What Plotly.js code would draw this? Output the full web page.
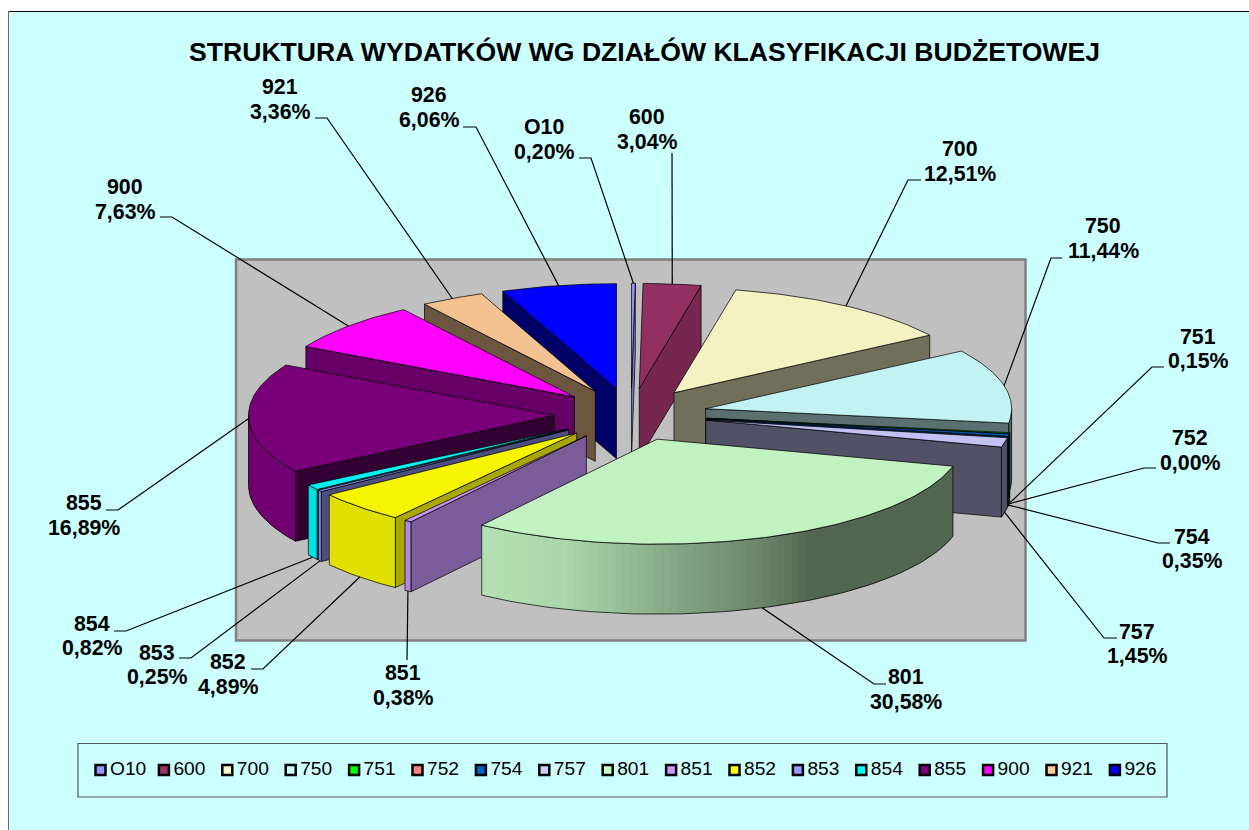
<!DOCTYPE html>
<html>
<head>
<meta charset="utf-8">
<script src="https://cdn.plot.ly/plotly-3.0.1.min.js"></script>
<style>html,body{margin:0;padding:0;background:#fff}#chart{width:1249px;height:830px}</style>
</head>
<body>
<div id="chart"></div>
<script>
// ---------- data ----------
const categories = ["O10","600","700","750","751","752","754","757","801","851","852","853","854","855","900","921","926"];
const shares = [0.20,3.04,12.51,11.44,0.15,0.00,0.35,1.45,30.58,0.38,4.89,0.25,0.82,16.89,7.63,3.36,6.06];
const colors = ["#9999FF","#993366","#FFFFCC","#CCFFFF","#00FF00","#FF8080","#0066CC","#CCCCFF","#CCFFCC","#CC99FF","#FFFF00","#9999FF","#00FFFF","#800080","#FF00FF","#FFCC99","#0000FF"];

// ---------- styling ----------
const topShade  = [.95,.95,.95,.95,.95,.95,.95,.95,.95,.95,.96,.95,.95,.95,1,.95,1];
const sideShade = [.75,.77,.44,.44,.44,.44,.44,.40,.44,.60,.66,.50,.50,.40,.40,.42,.40];
const labelCenterX = [544,647,960,1103,1198,1190,1192,1137,906,403,228,157,92,84,125,280,429];
const labelCenterY = [139.5,129.5,161.5,238.5,349,450.5,549,644,689.5,685.5,674.5,665,636,515.5,199.5,99.5,107.5];
// leader start (stub end) and knee, x,y
const stubX = [579,672,921,1062,1164,1156,1170,1117,886,407,251,179,114,106,160,315,463];
const kneeX = [591,672,908,1051,1152,1144,1158,1104,874,407,263,191,126,118,172,327,476];
const kneeY = [158,153,180,258,367,468,543,638,684,660,669,658,631,510,217,118,127];

const cx = 631, cy = 414.5, rx = 306, ry = 105, depth = 70, explode = 0.25;
const FONT = "Liberation Sans, Arial, sans-serif";
const rad = d => d * Math.PI / 180;
const mix = (hex, k) => {
  const n = parseInt(hex.slice(1), 16);
  return "rgb(" + [(n>>16)&255,(n>>8)&255,n&255].map(v => Math.round(v*k)).join(",") + ")";
};
const stops = [[-1,.88],[-.57,.88],[-.3,.84],[0,.68],[.34,.52],[.5,.40],[1,.40]];
function wallShade(deg){
  const s = Math.sin(rad(deg));
  for (let i=1;i<stops.length;i++) if (s<=stops[i][0]) {
    const t=(s-stops[i-1][0])/(stops[i][0]-stops[i-1][0]);
    return stops[i-1][1]+t*(stops[i][1]-stops[i-1][1]);
  }
  return .4;
}

// ---------- slices ----------
const total = shares.reduce((a,b)=>a+b,0);
let run = 0;
const slices = shares.map((v,i)=>{
  const a0 = run/total*360; run += v; const a1 = run/total*360; const m=(a0+a1)/2;
  const ax = cx + explode*rx*Math.sin(rad(m)), ay = cy - explode*ry*Math.cos(rad(m));
  return {i,v,a0,a1,m,ax,ay};
});
const rim = (s,d)=>[s.ax+rx*Math.sin(rad(d)), s.ay-ry*Math.cos(rad(d))];
const poly = (pts,fill,line)=>({
  type:"scatter",mode:"lines",x:pts.map(p=>p[0]),y:pts.map(p=>p[1]),
  fill:"toself",fillcolor:fill,
  line:{color:line||fill,width:line?1:0},
  hoverinfo:"skip",showlegend:false
});
const EDGE = "rgba(0,0,0,0.72)";
const traces = [];
slices.filter(s=>s.v>0).sort((a,b)=>a.ay-b.ay).forEach(s=>{
  const col = colors[s.i];
  // radial walls
  const radial = d=>{
    const p=rim(s,d);
    traces.push(poly([[s.ax,s.ay],p,[p[0],p[1]+depth],[s.ax,s.ay+depth],[s.ax,s.ay]],mix(col,sideShade[s.i]),EDGE));
  };
  if (Math.sin(rad(s.a0))<0) radial(s.a0);
  if (Math.sin(rad(s.a1))>0) radial(s.a1);
  // curved wall: overlapping bands, each painted over the last, so no seams show
  const c0=Math.max(s.a0,90), c1=Math.min(s.a1,270);
  if (c1>c0){
    const n=Math.max(1,Math.ceil((c1-c0)/1.5));
    const step=(c1-c0)/n;
    const outline=[];
    for(let k=0;k<n;k++){
      const d0=c0+step*k, d1=Math.min(c1,d0+step*2);
      const p=[];
      for(let j=0;j<=4;j++) p.push(rim(s,d0+(d1-d0)*j/4));
      const low=p.map(q=>[q[0],q[1]+depth]).reverse();
      traces.push(poly(p.concat(low,[p[0]]),mix(col,wallShade(d0+step/2))));
    }
    for(let k=0;k<=n;k++){outline.push(rim(s,c0+step*k));}
    const bottom=outline.map(p=>[p[0],p[1]+depth]).reverse();
    const ring=outline.concat(bottom,[outline[0]]);
    traces.push({type:"scatter",mode:"lines",x:ring.map(p=>p[0]),y:ring.map(p=>p[1]),line:{color:EDGE,width:1},hoverinfo:"skip",showlegend:false});
  }
  // top face
  const pts=[[s.ax,s.ay]];
  const n=Math.max(2,Math.ceil(s.a1-s.a0));
  for(let k=0;k<=n;k++) pts.push(rim(s,s.a0+(s.a1-s.a0)*k/n));
  pts.push([s.ax,s.ay]);
  traces.push(poly(pts,mix(col,topShade[s.i]),EDGE));
});

// ---------- leader lines ----------
slices.forEach(s=>{
  const p=rim(s,s.m);
  const end=[p[0], Math.cos(rad(s.m))<-0.1 ? p[1]+depth : p[1]];
  traces.push({type:"scatter",mode:"lines",
    x:[stubX[s.i],kneeX[s.i],end[0]],
    y:[kneeY[s.i],kneeY[s.i],end[1]],
    line:{color:"#000",width:1.2},hoverinfo:"skip",showlegend:false});
});

// ---------- legend ----------
const legendX = categories.map((c,i)=>100.5+i*63.4);
traces.push({
  type:"scatter",mode:"markers",
  x:legendX,y:categories.map(()=>770),
  marker:{symbol:"square",size:10,color:colors,line:{color:"#000",width:2.5}},
  hoverinfo:"skip",showlegend:false
});
traces.push({
  type:"scatter",mode:"text",
  x:legendX.map(v=>v+9.5),y:categories.map(()=>770),
  text:categories,textposition:"middle right",
  textfont:{family:FONT,size:19.2,color:"#000"},
  hoverinfo:"skip",showlegend:false
});

// ---------- labels ----------
const annotations=[];
slices.forEach(s=>{
  const pct=s.v.toFixed(2).replace(".",",")+"%";
  [[categories[s.i],-12.3],[pct,12.3]].forEach(([t,dy])=>annotations.push({
    xref:"x",yref:"y",x:labelCenterX[s.i],y:labelCenterY[s.i]+dy,
    text:t,showarrow:false,xanchor:"center",yanchor:"middle",
    font:{family:FONT,size:21.33,color:"#000",weight:700}
  }));
});

// ---------- frame ----------
const shapes=[
  {type:"rect",xref:"x",yref:"y",x0:8.5,y0:11.5,x1:1260,y1:840,fillcolor:"#CCFFFF",line:{width:0},layer:"below"},
  {type:"line",xref:"x",yref:"y",x0:8.5,y0:11.5,x1:1260,y1:11.5,line:{color:"#000",width:1},layer:"below"},
  {type:"line",xref:"x",yref:"y",x0:8.5,y0:11.5,x1:8.5,y1:840,line:{color:"#666",width:1},layer:"below"},
  {type:"rect",xref:"x",yref:"y",x0:236,y0:259.5,x1:1025.5,y1:640.5,fillcolor:"#C0C0C0",line:{color:"#808080",width:2.5},layer:"below"},
  {type:"rect",xref:"x",yref:"y",x0:78,y0:743.5,x1:1167,y1:797,fillcolor:"rgba(0,0,0,0)",line:{color:"#555",width:1.2},layer:"below"}
];

Plotly.newPlot("chart",traces,{
  width:1249,height:830,
  margin:{l:0,r:0,t:0,b:0,pad:0},
  paper_bgcolor:"#fff",plot_bgcolor:"#fff",
  showlegend:false,
  title:{text:"STRUKTURA WYDATKÓW WG DZIAŁÓW KLASYFIKACJI BUDŻETOWEJ",
    x:644.5/1249,xref:"paper",xanchor:"center",y:1-52/830,yref:"paper",yanchor:"middle",
    font:{family:FONT,size:26.6,color:"#000",weight:700}},
  xaxis:{range:[0,1249],visible:false,fixedrange:true},
  yaxis:{range:[830,0],visible:false,fixedrange:true},
  annotations,shapes
},{displayModeBar:false,staticPlot:true});
</script>
</body>
</html>
